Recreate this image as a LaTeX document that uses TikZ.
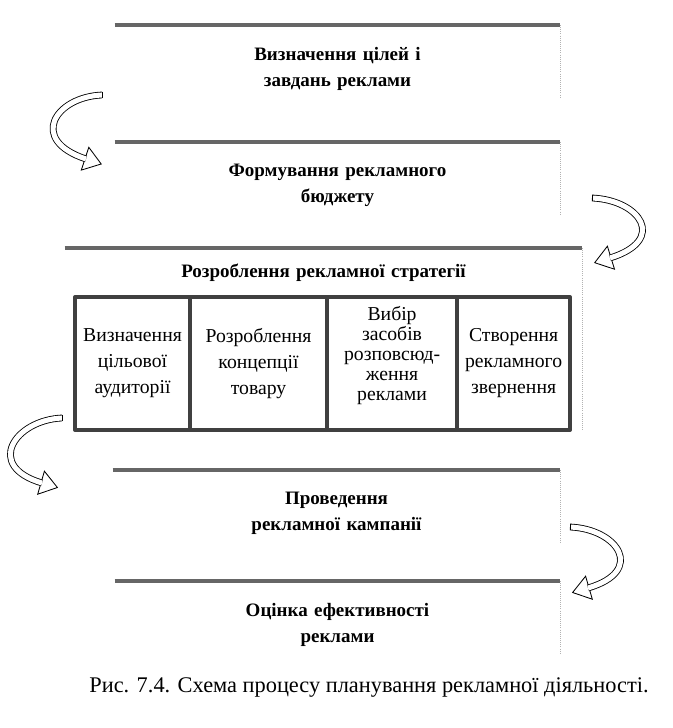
\documentclass[tikz,border=0pt]{standalone}
\usepackage{fontspec}
\setmainfont{Liberation Serif}
\usetikzlibrary{positioning}

\tikzset{
  stage/.style={anchor=north, minimum width=11.125cm, text width=11.125cm,
    inner xsep=0pt, inner ysep=0.55cm, align=center,
    font=\fontsize{13.5}{18.5}\selectfont\bfseries},
  topbar/.style={draw=black!60, line width=2.6pt},
  sidedots/.style={gray!60, densely dotted, line width=0.5pt},
  part/.style={draw=black!75, line width=2.4pt, outer sep=0pt, inner sep=0pt,
    minimum height=3.325cm, align=center,
    font=\fontsize{14}{18.5}\selectfont},
  band/.style={line width=0.6pt, double=white, double distance=3.6pt, line cap=butt},
  tiphead/.style={draw, fill=white, line width=0.6pt, line join=miter},
}

\begin{document}
\begin{tikzpicture}[x=0.025cm, y=-0.025cm, line join=round]
  \useasboundingbox (0,0) rectangle (672,728);

  % --- stages of planning ---
  \node[stage] (s1) at (337.5,25) {Визначення цілей і\\завдань реклами};
  \node[stage] (s2) at (337.5,142) {Формування рекламного\\бюджету};
  \node[stage, minimum width=12.925cm, text width=12.925cm, inner ysep=0.4cm]
    (s3) at (323.5,248) {Розроблення рекламної стратегії};
  \node[stage, minimum width=11.175cm, text width=11.175cm] (s4) at (336.5,470)
    {Проведення\\рекламної кампанії};
  \node[stage] (s5) at (337.5,581) {Оцінка ефективності\\реклами};

  % --- parts of the strategy ---
  \node[part, minimum width=2.875cm, anchor=north west] (b1) at (75,297)
    {Визначення\\цільової\\аудиторії};
  \node[part, minimum width=3.425cm, right=0pt of b1] (b2) {Розроблення\\концепції\\товару};
  \node[part, minimum width=3.25cm, right=0pt of b2, font=\fontsize{14}{14.3}\selectfont] (b3)
    {Вибір\\засобів\\розповсюд-\\ження\\реклами\\\mbox{}};
  \node[part, minimum width=2.825cm, right=0pt of b3] (b4) {Створення\\рекламного\\звернення};

  % --- grey bars on top, dotted right side ---
  \foreach \s in {s1,s2,s3,s4,s5}
    \draw[topbar] (\s.north west) -- (\s.north east);
  \foreach \s in {s1,s2,s4,s5}
    \draw[sidedots, shorten >=0.375cm] (\s.north east) -- (\s.south east);
  \draw[sidedots] (s3.north east) -- (s3.north east |- b4.south);

  % --- curved hollow arrows between stages ---
  \coordinate (a1s) at (102,95);  \coordinate (a1e) at (86,159);
  \coordinate (a2s) at (592,198); \coordinate (a2e) at (610,258);
  \coordinate (a3s) at (62,418);  \coordinate (a3e) at (42,483);
  \coordinate (a4s) at (570,527); \coordinate (a4e) at (588,588);

  % heads first, the bands go over their bases
  \filldraw[tiphead] (88.8,147.3) -- (101.2,164) -- (81.3,170.1) -- cycle;
  \filldraw[tiphead] (607.4,246.2) -- (594.7,262.7) -- (614.5,269.2) -- cycle;
  \filldraw[tiphead] (44.4,471.2) -- (57.4,487.5) -- (37.7,494.2) -- cycle;
  \filldraw[tiphead] (585.6,576.2) -- (572.6,592.5) -- (592.3,599.2) -- cycle;

  \draw[band] (a1s) .. controls (55,97) and (28,140) .. (a1e);
  \draw[band] (a2s) .. controls (640,200) and (668,240) .. (a2e);
  \draw[band] (a3s) .. controls (15,420) and (-16,466) .. (a3e);
  \draw[band] (a4s) .. controls (618,529) and (646,571) .. (a4e);

  % closed tails
  \foreach \t in {a1s,a2s,a3s,a4s}
    \draw[line width=0.6pt] ([yshift=2.4pt]\t) -- ([yshift=-2.4pt]\t);

  % --- caption ---
  \node[font=\fontsize{15.9}{19}\selectfont] (cap) at (369,688)
    {Рис. 7.4. Схема процесу планування рекламної діяльності.};
\end{tikzpicture}
\end{document}
